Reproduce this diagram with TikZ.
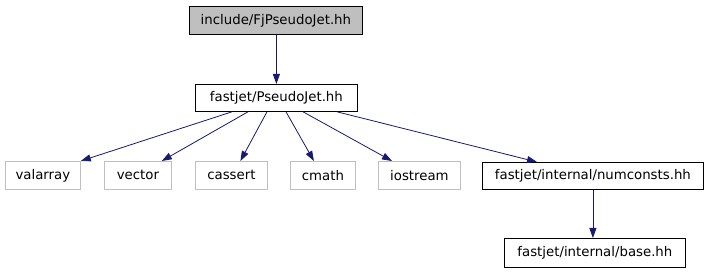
\documentclass[tikz,border=0pt]{standalone}
\usepackage{fontspec}
\setmainfont{DejaVu Sans}
\usetikzlibrary{arrows.meta}
\definecolor{edgecol}{HTML}{191970}
\definecolor{graybox}{HTML}{BFBFBF}
\tikzset{
  box/.style={draw=black, line width=0.8pt, inner sep=0pt, font=\fontsize{13.3}{15}\selectfont, anchor=north west},
  sysbox/.style={draw=graybox, line width=0.8pt, inner sep=0pt, font=\fontsize{13.3}{15}\selectfont, anchor=north west},
  arr/.style={draw=edgecol, line width=0.8pt, -{Triangle[length=10pt,width=7pt]}}
}
\begin{document}
\begin{tikzpicture}[x=1pt,y=-1pt]
\useasboundingbox (0,0) rectangle (709,272);
\node[box, fill=graybox, minimum width=173pt, minimum height=28pt] (top) at (189,6) {include/FjPseudoJet.hh};
\node[box, minimum width=162pt, minimum height=27pt] (p) at (195,84) {fastjet/PseudoJet.hh};
\node[sysbox, minimum width=75pt, minimum height=28pt] (va) at (5,161) {valarray};
\node[sysbox, minimum width=67pt, minimum height=28pt] (ve) at (104,161) {vector};
\node[sysbox, minimum width=72pt, minimum height=28pt] (ca) at (195,161) {cassert};
\node[sysbox, minimum width=65pt, minimum height=28pt] (cm) at (290,161) {cmath};
\node[sysbox, minimum width=82pt, minimum height=28pt] (io) at (378,161) {iostream};
\node[box, minimum width=221pt, minimum height=27pt] (nc) at (482,162) {fastjet/internal/numconsts.hh};
\node[box, minimum width=181pt, minimum height=29pt] (ba) at (504,238) {fastjet/internal/base.hh};
\draw[arr] (top.south -| p.south) -- (p.north);
\draw[arr] ([xshift=37pt]p.south west) -- (va.north east);
\draw[arr] ([xshift=53pt]p.south west) -- ([xshift=-10pt]ve.north east);
\draw[arr] ([xshift=72pt]p.south west) -- ([xshift=9pt]ca.north);
\draw[arr] ([xshift=91pt]p.south west) -- ([xshift=-9pt]cm.north);
\draw[arr] ([xshift=108pt]p.south west) -- ([xshift=14pt]io.north west);
\draw[arr] ([xshift=142pt]p.south west) -- ([xshift=55pt]nc.north west);
\draw[arr] (nc.south) -- (nc.south |- ba.north);
\end{tikzpicture}
\end{document}
